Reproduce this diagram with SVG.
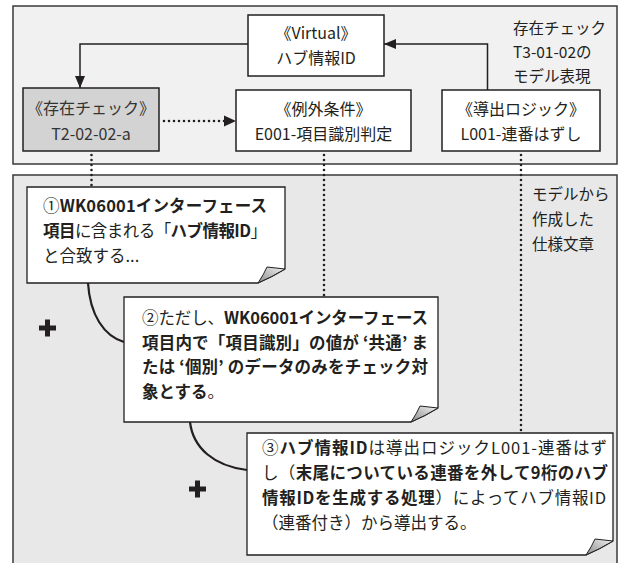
<svg xmlns="http://www.w3.org/2000/svg" width="624" height="563" viewBox="0 0 624 563">
<defs>
<style>
text{font-family:"Noto Sans CJK JP","Noto Sans",sans-serif;fill:#231f20}
.lbl{font-size:16px;text-anchor:middle}
.side{font-size:15.5px}
.nt{font-size:16.5px}
.b{font-weight:bold}
.box{fill:#fff;stroke:#231f20;stroke-width:1.5}
.note{fill:#fff;stroke:#231f20;stroke-width:1.3}
.flap{fill:url(#fg);stroke:#231f20;stroke-width:1}
.con{fill:none;stroke:#231f20;stroke-width:1.5}
.dot{fill:none;stroke:#231f20;stroke-width:2.6;stroke-dasharray:0 5;stroke-linecap:round}
.curve{fill:none;stroke:#231f20;stroke-width:2.2}
.plus{fill:none;stroke:#231f20;stroke-width:5}
</style>
<linearGradient id="fg" x1="0" y1="1" x2="1" y2="0">
<stop offset="0" stop-color="#8a8a8a"/>
<stop offset="1" stop-color="#f4f4f4"/>
</linearGradient>
<marker id="ah" viewBox="0 0 12 10" refX="12" refY="5" markerWidth="12" markerHeight="10" markerUnits="userSpaceOnUse" orient="auto">
<path d="M0 0 L12 5 L0 10 Z" fill="#231f20"/>
</marker>
</defs>

<g id="panel-model">
<rect x="13" y="6" width="604" height="158" fill="#f1f1f1" stroke="#3a3a3a" stroke-width="1.5"/>
<text class="side" x="513" y="34">存在チェック</text>
<text class="side" x="513" y="58">T3-01-02の</text>
<text class="side" x="513" y="82">モデル表現</text>
</g>
<g id="panel-spec">
<rect x="13" y="175" width="604" height="400" fill="#e8e8e8" stroke="#3a3a3a" stroke-width="1.5"/>
<text class="side" x="532" y="200">モデルから</text>
<text class="side" x="532" y="225">作成した</text>
<text class="side" x="532" y="250">仕様文章</text>
</g>

<g id="connectors">
<path class="con" d="M248 44 H80 V88" marker-end="url(#ah)"/>
<path class="con" d="M487.5 90 V44 H384" marker-end="url(#ah)"/>
<path class="dot" d="M164 121 H226"/>
<path d="M224 115.5 L236 121 L224 126.5 Z" fill="#231f20"/>
<path class="dot" d="M91.5 155 V187"/>
<path class="dot" d="M324 155 V297"/>
<path class="dot" d="M521 155 V433"/>
<path class="curve" d="M88 283 C90 315 104 336 124 342"/>
<path class="curve" d="M190 422 C193 448 214 466 247 470"/>
<path class="plus" d="M39 328 H56 M47.5 319.5 V336.5"/>
<path class="plus" d="M189 489 H206 M197.5 480.5 V497.5"/>
</g>

<g id="virtual">
<rect class="box" x="248" y="15" width="136" height="61"/>
<text class="lbl" x="316" y="39">《Virtual》</text>
<text class="lbl" x="316" y="64">ハブ情報ID</text>
</g>
<g id="exist-check">
<rect class="box" x="23" y="88" width="136" height="63" style="fill:#d3d3d3"/>
<text class="lbl" x="91" y="114" style="fill:#333">《存在チェック》</text>
<text class="lbl" x="91" y="140" style="fill:#333">T2-02-02-a</text>
</g>
<g id="exception">
<rect class="box" x="236" y="90" width="175" height="61"/>
<text class="lbl" x="323.5" y="115">《例外条件》</text>
<text class="lbl" x="323.5" y="140">E001-項目識別判定</text>
</g>
<g id="derive">
<rect class="box" x="442" y="90" width="158" height="61"/>
<text class="lbl" x="521" y="115">《導出ロジック》</text>
<text class="lbl" x="521" y="140">L001-連番はずし</text>
</g>

<g id="note1">
<path class="note" d="M27 187 H285 V269 Q272 277 258 283 H27 Z"/>
<path class="flap" d="M258 283 Q264 274 267 267 Q276 268 285 269 Q272 277 258 283 Z"/>
<text class="nt" x="43" y="212" textLength="224" lengthAdjust="spacing">①<tspan class="b">WK06001インターフェース</tspan></text>
<text class="nt" x="43" y="237" textLength="224" lengthAdjust="spacing"><tspan class="b">項目</tspan>に含まれる「<tspan class="b">ハブ情報ID</tspan>」</text>
<text class="nt" x="43" y="262">と合致する...</text>
</g>
<g id="note2">
<path class="note" d="M124 297 H438 V408 Q425 416 411 422 H124 Z"/>
<path class="flap" d="M411 422 Q417 413 420 406 Q429 407 438 408 Q425 416 411 422 Z"/>
<text class="nt" x="142" y="324" textLength="286" lengthAdjust="spacing">②ただし、<tspan class="b">WK06001インターフェース</tspan></text>
<text class="nt b" x="142" y="349" textLength="286" lengthAdjust="spacing">項目内で「項目識別」の値が ‘共通’ ま</text>
<text class="nt b" x="142" y="373" textLength="286" lengthAdjust="spacing">たは ‘個別’ のデータのみをチェック対</text>
<text class="nt" x="142" y="398"><tspan class="b">象とする</tspan>。</text>
</g>
<g id="note3">
<path class="note" d="M247 433 H613 V541 Q600 549 586 555 H247 Z"/>
<path class="flap" d="M586 555 Q592 546 595 539 Q604 540 613 541 Q600 549 586 555 Z"/>
<text class="nt" x="262" y="454" textLength="345" lengthAdjust="spacing">③<tspan class="b">ハブ情報ID</tspan>は導出ロジックL001-連番はず</text>
<text class="nt" x="262" y="479" textLength="346" lengthAdjust="spacing">し（<tspan class="b">末尾についている連番を外して9桁のハブ</tspan></text>
<text class="nt" x="262" y="504" textLength="344" lengthAdjust="spacing"><tspan class="b">情報IDを生成する処理</tspan>）によってハブ情報ID</text>
<text class="nt" x="262" y="529">（連番付き）から導出する。</text>
</g>
</svg>
